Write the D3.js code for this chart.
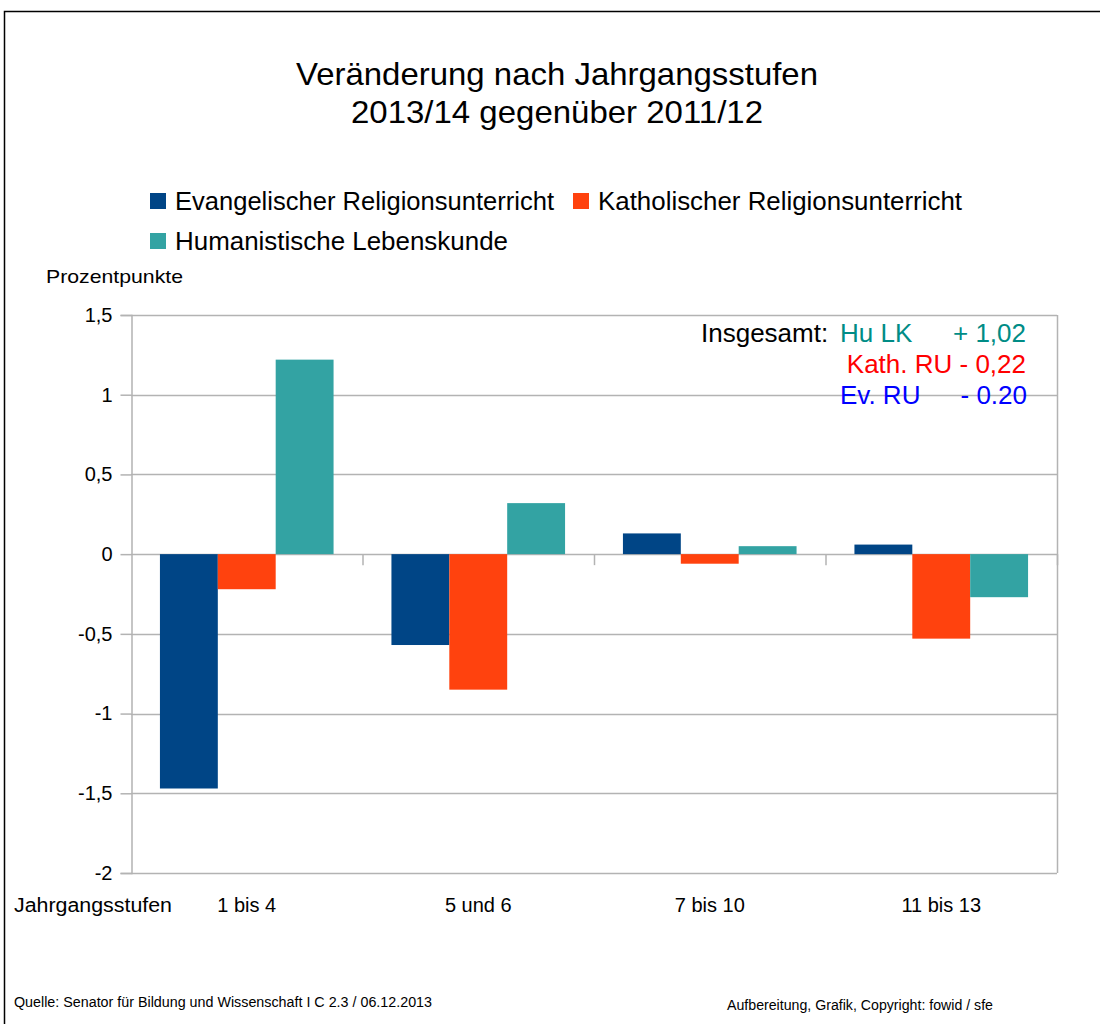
<!doctype html>
<html lang="de">
<head>
<meta charset="UTF-8">
<title>Veränderung nach Jahrgangsstufen</title>
<script src="https://d3js.org/d3.v7.min.js"></script>
<style>
  html, body { margin: 0; padding: 0; background: #fff; }
  svg { display: block; font-family: 'Liberation Sans', Arial, sans-serif; }
</style>
</head>
<body>
<svg width="1100" height="1024"></svg>
<script>
  const categories = ['1 bis 4', '5 und 6', '7 bis 10', '11 bis 13']
  const seriesNames = ['Evangelischer Religionsunterricht', 'Katholischer Religionsunterricht', 'Humanistische Lebenskunde']
  const evValues = [-1.47, -0.57, 0.13, 0.06]
  const kathValues = [-0.22, -0.85, -0.06, -0.53]
  const huValues = [1.22, 0.32, 0.05, -0.27]
  const yTicks = [1.5, 1, 0.5, 0, -0.5, -1, -1.5, -2]
  const colors = ['#004586', '#ff420e', '#33a3a3']

  const series = [evValues, kathValues, huValues]
  const svg = d3.select('svg')

  // outer frame
  svg.append('path')
    .attr('d', 'M4.5,1024 V11.5 H1100')
    .attr('fill', 'none')
    .attr('stroke', '#000')
    .attr('stroke-width', 1.5)

  // title
  const title = svg.append('text')
    .attr('text-anchor', 'middle')
    .attr('font-size', 32)
    .attr('fill', '#000')
  title.append('tspan').attr('x', 557).attr('y', 85)
    .attr('textLength', 522).attr('lengthAdjust', 'spacingAndGlyphs')
    .text('Veränderung nach Jahrgangsstufen')
  title.append('tspan').attr('x', 557).attr('y', 123)
    .attr('textLength', 412).attr('lengthAdjust', 'spacingAndGlyphs')
    .text('2013/14 gegenüber 2011/12')

  // legend
  const legendPos = [[150, 193], [573, 193], [150, 233]]
  const legendLen = [379, 364, 333]
  seriesNames.forEach((name, i) => {
    const g = svg.append('g').attr('transform', `translate(${legendPos[i][0]},${legendPos[i][1]})`)
    g.append('rect').attr('width', 16).attr('height', 16).attr('fill', colors[i])
    g.append('text').attr('x', 25).attr('y', 17).attr('font-size', 25)
      .attr('textLength', legendLen[i]).attr('lengthAdjust', 'spacingAndGlyphs')
      .text(name)
  })

  const margin = { left: 131, right: 1057, top: 315, bottom: 873 }

  const x = d3.scaleBand()
    .domain(categories)
    .range([margin.left, margin.right])

  const xInner = d3.scaleBand()
    .domain(d3.range(series.length))
    .range([0, x.bandwidth()])
    .paddingOuter(0.5)

  const y = d3.scaleLinear()
    .domain([-2, 1.5])
    .range([margin.bottom, margin.top])

  // grid
  svg.append('g')
    .selectAll('line')
    .data(yTicks)
    .enter()
    .append('line')
    .attr('x1', margin.left)
    .attr('x2', margin.right)
    .attr('y1', d => Math.round(y(d)) + 0.5)
    .attr('y2', d => Math.round(y(d)) + 0.5)
    .attr('stroke', '#b3b3b3')
    .attr('stroke-width', 1.5)

  svg.append('line')
    .attr('x1', margin.right + 0.5).attr('x2', margin.right + 0.5)
    .attr('y1', margin.top).attr('y2', margin.bottom)
    .attr('stroke', '#b3b3b3').attr('stroke-width', 1.5)

  // y axis
  const yAxis = d3.axisLeft(y)
    .tickValues(yTicks)
    .tickSize(11)
    .tickPadding(8)
    .tickFormat(d => d3.format('~g')(d).replace('.', ',').replace('−', '-'))
  const yg = svg.append('g')
    .attr('transform', `translate(${margin.left + 0.5},0)`)
    .call(yAxis)
  yg.select('.domain').attr('stroke', '#b3b3b3').attr('stroke-width', 1.5)
  yg.selectAll('.tick line').attr('stroke', '#b3b3b3').attr('stroke-width', 1.5)
  yg.selectAll('.tick text')
    .attr('font-size', 20)
    .attr('font-family', "'Liberation Sans', Arial, sans-serif")
    .attr('fill', '#000')

  // category ticks on the zero line
  svg.append('g')
    .selectAll('line')
    .data(categories.slice(1).concat(['end']))
    .enter()
    .append('line')
    .attr('x1', (d, i) => margin.left + x.bandwidth() * (i + 1) + 0.5)
    .attr('x2', (d, i) => margin.left + x.bandwidth() * (i + 1) + 0.5)
    .attr('y1', y(0))
    .attr('y2', y(0) + 11)
    .attr('stroke', '#b3b3b3')
    .attr('stroke-width', 1.5)

  // bars
  series.forEach((vals, si) => {
    svg.append('g')
      .selectAll('rect')
      .data(vals)
      .enter()
      .append('rect')
      .attr('x', (d, i) => x(categories[i]) + xInner(si))
      .attr('width', xInner.bandwidth())
      .attr('y', d => y(Math.max(0, d)))
      .attr('height', d => Math.abs(y(d) - y(0)))
      .attr('fill', colors[si])
  })

  // category labels
  svg.append('g')
    .selectAll('text')
    .data(categories)
    .enter()
    .append('text')
    .attr('x', d => x(d) + x.bandwidth() / 2)
    .attr('y', 912)
    .attr('text-anchor', 'middle')
    .attr('font-size', 20)
    .text(d => d)

  svg.append('text').attr('x', 14).attr('y', 912).attr('font-size', 20)
    .attr('textLength', 158).attr('lengthAdjust', 'spacingAndGlyphs')
    .text('Jahrgangsstufen')
  svg.append('text').attr('x', 46).attr('y', 283).attr('font-size', 19)
    .attr('textLength', 137).attr('lengthAdjust', 'spacingAndGlyphs')
    .text('Prozentpunkte')

  // totals box
  const notes = svg.append('g').attr('font-size', 26)
  notes.append('text').attr('x', 701).attr('y', 342).attr('fill', '#000').text('Insgesamt:')
  notes.append('text').attr('x', 840).attr('y', 342).attr('fill', '#008c86').text('Hu LK')
  notes.append('text').attr('x', 1026).attr('y', 342).attr('text-anchor', 'end').attr('fill', '#008c86').text('+ 1,02')
  notes.append('text').attr('x', 1026).attr('y', 373).attr('text-anchor', 'end').attr('fill', '#ff0000').text('Kath. RU - 0,22')
  notes.append('text').attr('x', 840).attr('y', 404).attr('fill', '#0000ff').text('Ev. RU')
  notes.append('text').attr('x', 1027).attr('y', 404).attr('text-anchor', 'end').attr('fill', '#0000ff').text('- 0.20')

  // footer
  svg.append('text').attr('x', 14).attr('y', 1007).attr('font-size', 14)
    .attr('font-family', "'Liberation Sans Narrow', 'Liberation Sans', sans-serif")
    .attr('textLength', 418).attr('lengthAdjust', 'spacingAndGlyphs')
    .text('Quelle: Senator für Bildung und Wissenschaft I C 2.3 / 06.12.2013')
  svg.append('text').attr('x', 727).attr('y', 1010).attr('font-size', 14)
    .attr('font-family', "'Liberation Sans Narrow', 'Liberation Sans', sans-serif")
    .attr('textLength', 266).attr('lengthAdjust', 'spacingAndGlyphs')
    .text('Aufbereitung, Grafik, Copyright: fowid / sfe')
</script>
</body>
</html>
